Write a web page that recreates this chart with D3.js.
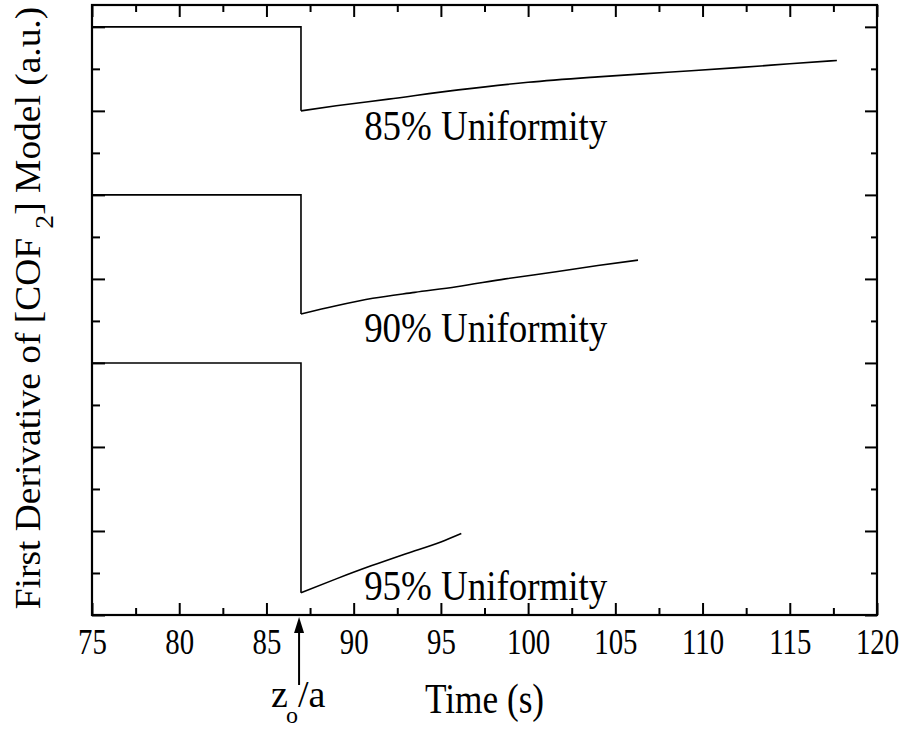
<!DOCTYPE html>
<html>
<head>
<meta charset="utf-8">
<script src="https://cdn.jsdelivr.net/npm/d3@7"></script>
<style>
  body { margin: 0; background: #fff; }
  svg { display: block; }
  text { font-family: "Liberation Serif", "Times New Roman", serif; fill: #000; }
</style>
</head>
<body>
<svg id="chart" width="906" height="729"></svg>
<script>
// Derivative traces: step at the front arrival, then a slow recovery
const time85  = [75, 86.98, 86.98, 89, 92, 96, 100, 104, 108, 112, 115, 117.7];
const deriv85 = [7, 7, 6.0, 6.06, 6.14, 6.25, 6.34, 6.405, 6.46, 6.515, 6.56, 6.60];

const time90  = [75, 86.98, 86.98, 89, 91.1, 93.5, 95.9, 98.7, 101.6, 104, 106.3];
const deriv90 = [5, 5, 3.582, 3.68, 3.769, 3.84, 3.907, 4.0, 4.085, 4.16, 4.224];

const time95  = [75, 86.98, 86.98, 89, 91, 93, 95, 96.17];
const deriv95 = [3, 3, 0.265, 0.43, 0.585, 0.73, 0.87, 0.97];

const seriesNames = ["85% Uniformity", "90% Uniformity", "95% Uniformity"];
const labelTime   = [90.6, 90.6, 90.6];
const labelValue  = [5.653, 3.25, 0.179];

const xMajorTicks = [75, 80, 85, 90, 95, 100, 105, 110, 115, 120];
const xMinorTicks = [77.5, 82.5, 87.5, 92.5, 97.5, 102.5, 107.5, 112.5, 117.5];
const yMajorTicks = [0, 1, 2, 3, 4, 5, 6, 7];
const yMinorTicks = [0.5, 1.5, 2.5, 3.5, 4.5, 5.5, 6.5];

const arrivalTime = 86.87;   // z_o / a marker

const svg = d3.select("#chart");
const L = 92, R = 877, T = 5, B = 615;

const x = d3.scaleLinear().domain([75, 120]).range([L, R]);
const y = d3.scaleLinear().domain([0, 7.26]).range([B, T]);

const squeeze = 0.84;

function styleAxis(g) {
  g.select(".domain").remove();
  g.selectAll("line").attr("stroke", "#000").attr("stroke-width", 2);
}

// bottom axis with labels
svg.append("g")
  .attr("transform", `translate(0,${B})`)
  .call(d3.axisBottom(x).tickValues(xMajorTicks).tickSizeInner(-12).tickSizeOuter(0)
        .tickPadding(13).tickFormat(d3.format("d")))
  .call(styleAxis)
  .call(g => g.selectAll("text")
    .attr("font-size", 36)
    .attr("transform", "scale(0.8,1)"));

svg.append("g")
  .attr("transform", `translate(0,${B})`)
  .call(d3.axisBottom(x).tickValues(xMinorTicks).tickSizeInner(-7).tickSizeOuter(0).tickFormat(""))
  .call(styleAxis);

// top axis ticks
svg.append("g")
  .attr("transform", `translate(0,${T})`)
  .call(d3.axisTop(x).tickValues(xMajorTicks).tickSizeInner(-12).tickSizeOuter(0).tickFormat(""))
  .call(styleAxis);
svg.append("g")
  .attr("transform", `translate(0,${T})`)
  .call(d3.axisTop(x).tickValues(xMinorTicks).tickSizeInner(-7).tickSizeOuter(0).tickFormat(""))
  .call(styleAxis);

// left and right ticks
svg.append("g")
  .attr("transform", `translate(${L},0)`)
  .call(d3.axisLeft(y).tickValues(yMajorTicks).tickSizeInner(-13).tickSizeOuter(0).tickFormat(""))
  .call(styleAxis);
svg.append("g")
  .attr("transform", `translate(${L},0)`)
  .call(d3.axisLeft(y).tickValues(yMinorTicks).tickSizeInner(-8).tickSizeOuter(0).tickFormat(""))
  .call(styleAxis);
svg.append("g")
  .attr("transform", `translate(${R},0)`)
  .call(d3.axisRight(y).tickValues(yMajorTicks).tickSizeInner(-12).tickSizeOuter(0).tickFormat(""))
  .call(styleAxis);
svg.append("g")
  .attr("transform", `translate(${R},0)`)
  .call(d3.axisRight(y).tickValues(yMinorTicks).tickSizeInner(-6).tickSizeOuter(0).tickFormat(""))
  .call(styleAxis);

// frame
svg.append("rect")
  .attr("x", L).attr("y", T).attr("width", R - L).attr("height", B - T)
  .attr("fill", "none").attr("stroke", "#000").attr("stroke-width", 2.2);

// traces: the step drawn straight, the recovery drawn as a smooth curve
const stepLine = d3.line().x(d => x(d[0])).y(d => y(d[1]));
const recoveryLine = d3.line().x(d => x(d[0])).y(d => y(d[1])).curve(d3.curveMonotoneX);
[[time85, deriv85], [time90, deriv90], [time95, deriv95]].forEach(([t, v]) => {
  const pts = d3.zip(t, v);
  svg.append("path")
    .datum(pts.slice(0, 3))
    .attr("d", stepLine)
    .attr("fill", "none")
    .attr("stroke", "#000")
    .attr("stroke-width", 1.6)
    .attr("stroke-linejoin", "miter");
  svg.append("path")
    .datum(pts.slice(2))
    .attr("d", recoveryLine)
    .attr("fill", "none")
    .attr("stroke", "#000")
    .attr("stroke-width", 1.6);
});

// trace labels
seriesNames.forEach((name, i) => {
  const px = x(labelTime[i]), py = y(labelValue[i]);
  svg.append("text")
    .attr("transform", `translate(${px},${py}) scale(0.88,1)`)
    .attr("font-size", 42)
    .text(name);
});

// axis titles
svg.append("text")
  .attr("transform", `translate(${(L + R) / 2},713) scale(${squeeze},1)`)
  .attr("text-anchor", "middle")
  .attr("font-size", 42)
  .text("Time (s)");

const yTitle = svg.append("text")
  .attr("transform", `translate(40,${(T + B) / 2 - 2}) rotate(-90) scale(1.07,1)`)
  .attr("text-anchor", "middle")
  .attr("font-size", 35);
yTitle.append("tspan").text("First Derivative of [COF  ");
yTitle.append("tspan").attr("font-size", 26).attr("dy", 13).text("2");
yTitle.append("tspan").attr("dy", -13).text("] Model (a.u.)");

// arrival-time arrow below the axis
const ax = x(arrivalTime);
svg.append("line")
  .attr("x1", ax).attr("x2", ax).attr("y1", 628).attr("y2", 685)
  .attr("stroke", "#000").attr("stroke-width", 2);
svg.append("path")
  .attr("d", `M${ax},617 L${ax - 5},633 L${ax + 5},633 Z`)
  .attr("fill", "#000");

// z_o/a as one text with a lowered subscript
const zLabel = svg.append("text").attr("font-size", 38);
zLabel.append("tspan").attr("x", 271).attr("y", 707).text("z");
zLabel.append("tspan").attr("x", 286).attr("y", 723).attr("font-size", 24).text("o");
zLabel.append("tspan").attr("x", 298).attr("y", 707).text("/a");
</script>
</body>
</html>
